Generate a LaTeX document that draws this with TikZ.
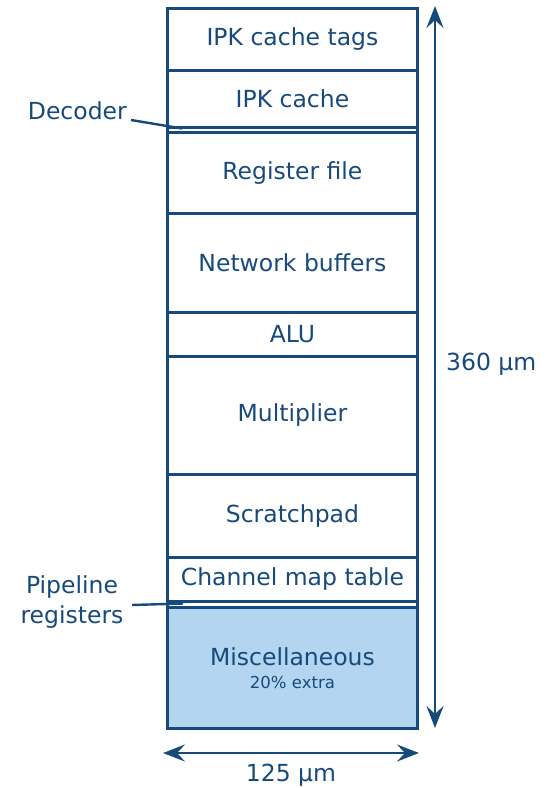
\documentclass[tikz,border=0pt]{standalone}
\usepackage{fontspec}
\setmainfont{DejaVu Sans}
\usetikzlibrary{arrows.meta}
\definecolor{ink}{HTML}{174A7C}
\definecolor{misc}{HTML}{B4D5F0}
\begin{document}
\begin{tikzpicture}[x=1pt,y=-1pt,
  blk/.style={draw=ink, line width=2.9pt, minimum width=250pt, inner sep=0pt,
    anchor=north west, text=ink, font=\fontsize{23.5}{26}\selectfont},
  strip/.style={draw=ink, line width=2.6pt, minimum width=250pt, inner sep=0pt,
    anchor=north west},
  lbl/.style={text=ink, font=\fontsize{23.5}{30}\selectfont, inner sep=0pt},
  lead/.style={draw=ink, line width=2.4pt},
  tip/.style={Stealth[length=22pt,width=17pt,inset=8pt]},
  dim/.style={draw=ink, line width=2.6pt, {Stealth[length=22pt,width=17pt,inset=8pt]}-{Stealth[length=22pt,width=17pt,inset=8pt]}}]
\useasboundingbox (0,0) rectangle (555,788);

% stacked area blocks, top to bottom
\node[blk, minimum height=62pt] (tags) at (166,7) {IPK cache tags};
\node[blk, minimum height=57pt] (ipk) at (166,69) {IPK cache};
\node[strip, minimum height=5pt] (dec) at (166,126) {};
\node[blk, minimum height=81pt] (reg) at (166,131) {Register file};
\node[blk, minimum height=99pt] (net) at (166,212) {Network buffers};
\node[blk, minimum height=44pt] (alu) at (166,311) {ALU};
\node[blk, minimum height=118pt] (mul) at (166,355) {Multiplier};
\node[blk, minimum height=83pt] (scr) at (166,473) {Scratchpad};
\node[blk, minimum height=44pt] (cmt) at (166,556) {Channel map table};
\node[strip, minimum height=6pt] (pipe) at (166,600) {};
\node[blk, minimum height=121pt, fill=misc, align=center] (misc) at (166,606)
  {Miscellaneous\\[-3pt]{\fontsize{16.5}{18}\selectfont 20\% extra}};

% side labels with leader lines into the thin strips
\node[lbl, anchor=east] (declbl) at (127,111) {Decoder};
\coordinate (decstart) at (131,120);
\coordinate (decend) at (182,128.5);
\draw[lead] (decstart) -- (decend);

\node[lbl, align=center] (pipelbl) at (72,602) {Pipeline\\registers};
\coordinate (pipestart) at (132,605);
\coordinate (pipeend) at (183,603.5);
\draw[lead] (pipestart) -- (pipeend);

% dimension arrows
\coordinate (vtop) at (435,6);
\coordinate (vbot) at (435,728);
\draw[dim] (vtop) -- (vbot);
\node[lbl, anchor=west] (hlbl) at (446,364) {360 µm};

\coordinate (hl) at (163,753);
\coordinate (hr) at (419,753);
\draw[dim] (hl) -- (hr);
\node[lbl] (wlbl) at (291,775) {125 µm};
\end{tikzpicture}
\end{document}
